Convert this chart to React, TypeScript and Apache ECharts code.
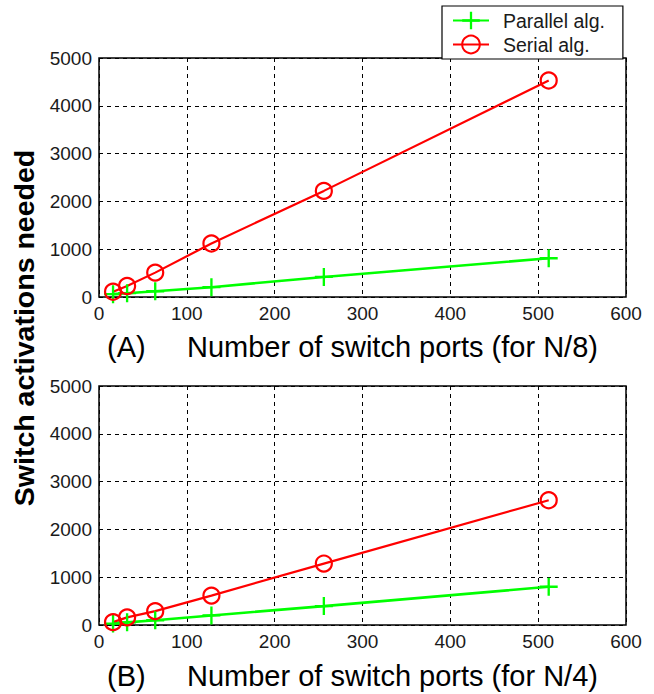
import React, { useEffect, useRef } from "react";
import * as echarts from "echarts";

const ports = [16, 32, 64, 128, 256, 512];
const parallelA = [60, 80, 120, 205, 420, 810];
const serialA = [110, 230, 510, 1120, 2220, 4530];
const parallelB = [30, 55, 100, 200, 395, 800];
const serialB = [60, 160, 290, 615, 1285, 2610];
const seriesNames = ["Parallel alg.", "Serial alg."];
const panelLabels = ["(A)", "(B)"];
const xTitles = ["Number of switch ports (for N/8)", "Number of switch ports (for N/4)"];
const yTitle = "Switch activations needed";

const FONT = "'Liberation Sans', Arial, sans-serif";
const PLUS = "path://M-1.3,-10H1.3V-1.3H10V1.3H1.3V10H-1.3V1.3H-10V-1.3H-1.3Z";
const GREEN = "#00ff00";
const RED = "#ff0000";

const pair = (ys: number[]) => ports.map((x, i) => [x, ys[i]]);

export default function App() {
  const ref = useRef<HTMLDivElement>(null);
  useEffect(() => {
    if (!ref.current) return;
    const chart = echarts.init(ref.current, undefined, { renderer: "svg" });
    const grids = [
      { left: 99, top: 58, width: 527, height: 239 },
      { left: 99, top: 386, width: 527, height: 239 },
    ];
    const xAxis = grids.map((_, i) => ({
      type: "value",
      gridIndex: i,
      min: 0,
      max: 600,
      interval: 100,
      axisLine: { show: false },
      axisTick: { show: false },
      axisLabel: { color: "#1a1a1a", fontSize: 19, fontFamily: FONT, margin: 7 },
      splitLine: { show: true, lineStyle: { color: "#000", type: [4, 4], width: 1 } },
    }));
    const yAxis = grids.map((_, i) => ({
      type: "value",
      gridIndex: i,
      min: 0,
      max: 5000,
      interval: 1000,
      axisLine: { show: false },
      axisTick: { show: false },
      axisLabel: {
        color: "#1a1a1a",
        fontSize: 19,
        fontFamily: FONT,
        margin: 7,
        formatter: (v: number) => String(v),
      },
      splitLine: { show: true, lineStyle: { color: "#000", type: [4, 4], width: 1 } },
    }));
    const mk = (name: string, data: number[][], idx: number, isPlus: boolean) => ({
      type: "line",
      name,
      xAxisIndex: idx,
      yAxisIndex: idx,
      data,
      symbol: isPlus ? PLUS : "circle",
      symbolSize: isPlus ? 18 : 16,
      showAllSymbol: true,
      lineStyle: { color: isPlus ? GREEN : RED, width: isPlus ? 2.6 : 2.2 },
      itemStyle: isPlus
        ? { color: GREEN }
        : { color: "rgba(255,255,255,0)", borderColor: RED, borderWidth: 2.2 },
      emphasis: { disabled: true },
    });
    const series = [
      mk(seriesNames[0], pair(parallelA), 0, true),
      mk(seriesNames[1], pair(serialA), 0, false),
      mk(seriesNames[0], pair(parallelB), 1, true),
      mk(seriesNames[1], pair(serialB), 1, false),
    ];
    const titleY = [347, 676];
    const graphic: any[] = [];
    titleY.forEach((y, i) => {
      graphic.push({
        type: "text",
        x: 107,
        y,
        style: { text: panelLabels[i], font: `29px ${FONT}`, fill: "#000", textVerticalAlign: "middle" },
      });
      graphic.push({
        type: "text",
        x: 187,
        y,
        style: { text: xTitles[i], font: `29px ${FONT}`, fill: "#000", textVerticalAlign: "middle" },
      });
    });
    graphic.push({
      type: "text",
      x: 24,
      y: 328,
      rotation: Math.PI / 2,
      style: {
        text: yTitle,
        font: `bold 28.5px ${FONT}`,
        fill: "#000",
        textAlign: "center",
        textVerticalAlign: "middle",
      },
    });
    chart.setOption({
      animation: false,
      backgroundColor: "#fff",
      grid: grids.map((g) => ({ ...g, show: true, borderColor: "#000", borderWidth: 1.5, backgroundColor: "#fff" })),
      xAxis,
      yAxis,
      series,
      legend: {
        data: seriesNames,
        orient: "vertical",
        left: 442,
        top: 6,
        padding: [3.5, 18, 3.5, 10],
        itemGap: 2,
        itemWidth: 36,
        itemHeight: 22,
        backgroundColor: "#fff",
        borderColor: "#000",
        borderWidth: 1.2,
        z: 10,
        selectedMode: false,
        textStyle: { color: "#1a1a1a", fontSize: 19.5, fontFamily: FONT, padding: [0, 0, 0, 9], lineHeight: 22 },
      },
      graphic,
    });
    return () => chart.dispose();
  }, []);
  return <div ref={ref} style={{ position: "fixed", left: 0, top: 0, width: 654, height: 694 }} />;
}
